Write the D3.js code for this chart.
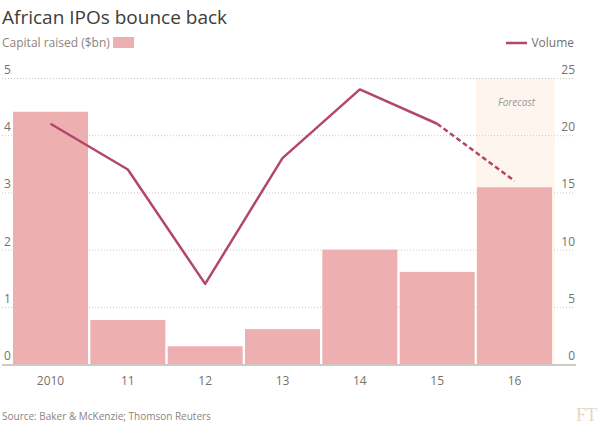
<!DOCTYPE html>
<html>
<head>
<meta charset="utf-8">
<script src="https://cdn.jsdelivr.net/npm/d3@7"></script>
<style>
  body { margin: 0; background: #fff; }
  svg { display: block; font-family: "Open Sans", "DejaVu Sans", sans-serif; }
</style>
</head>
<body>
<div id="chart"></div>
<script>
// Data
const years = ['2010', '11', '12', '13', '14', '15', '16'];
const capitalRaised = [4.41, 0.77, 0.31, 0.61, 2.0, 1.61, 3.09];
const volume = [21, 17, 7, 18, 24, 21, 16];
const leftTicks = [0, 1, 2, 3, 4, 5];
const rightTicks = [0, 5, 10, 15, 20, 25];
const forecastYear = '16';

const width = 600, height = 424;
const plot = { left: 13, right: 552, top: 78, bottom: 364 };

const svg = d3.select('#chart').append('svg')
    .attr('width', width)
    .attr('height', height);

const x = d3.scaleBand()
    .domain(years)
    .range([plot.left, plot.right])
    .paddingInner(0.03)
    .paddingOuter(0);

const yCap = d3.scaleLinear().domain([0, 5]).range([plot.bottom, plot.top]);
const yVol = d3.scaleLinear().domain([0, 25]).range([plot.bottom, plot.top]);

// Forecast shading
svg.append('rect')
    .attr('x', x(forecastYear) - 1)
    .attr('y', plot.top)
    .attr('width', x.bandwidth() + 4)
    .attr('height', plot.bottom - plot.top)
    .attr('fill', '#fef6ee');

svg.append('text')
    .attr('x', x(forecastYear) + x.bandwidth() / 2 + 2)
    .attr('y', 106)
    .attr('text-anchor', 'middle')
    .style('font-size', '10px')
    .style('font-style', 'italic')
    .style('fill', '#999')
    .text('Forecast');

// Dotted gridlines
svg.append('g')
    .selectAll('line')
    .data(leftTicks.slice(1))
    .enter()
    .append('line')
    .attr('x1', 2)
    .attr('x2', 574)
    .attr('y1', d => yCap(d) + 0.5)
    .attr('y2', d => yCap(d) + 0.5)
    .attr('stroke', '#cdc8c3')
    .attr('stroke-width', 1)
    .attr('stroke-dasharray', '1,2');

// Left axis labels
svg.append('g')
    .selectAll('text')
    .data(leftTicks)
    .enter()
    .append('text')
    .attr('x', 4)
    .attr('y', d => yCap(d) - 4)
    .style('font-size', '12px')
    .style('fill', '#77716c')
    .text(d => d);

// Right axis labels
svg.append('g')
    .selectAll('text')
    .data(rightTicks)
    .enter()
    .append('text')
    .attr('x', 575)
    .attr('y', d => yVol(d) - 4)
    .attr('text-anchor', 'end')
    .style('font-size', '12px')
    .style('fill', '#77716c')
    .text(d => d);

// Bars
svg.append('g')
    .selectAll('rect')
    .data(years)
    .enter()
    .append('rect')
    .attr('x', d => x(d))
    .attr('y', (d, i) => yCap(capitalRaised[i]))
    .attr('width', x.bandwidth())
    .attr('height', (d, i) => plot.bottom - yCap(capitalRaised[i]))
    .attr('fill', '#eeafb0');

// Baseline
svg.append('line')
    .attr('x1', 2)
    .attr('x2', 576)
    .attr('y1', plot.bottom + 1)
    .attr('y2', plot.bottom + 1)
    .attr('stroke', '#cfcac4')
    .attr('stroke-width', 2);

// X axis labels
svg.append('g')
    .selectAll('text')
    .data(years)
    .enter()
    .append('text')
    .attr('x', d => x(d) + x.bandwidth() / 2)
    .attr('y', 385)
    .attr('text-anchor', 'middle')
    .style('font-size', '12px')
    .style('fill', '#77716c')
    .text(d => d);

// Volume line: solid for actuals, dashed into forecast
const pts = years.map((d, i) => [x(d) + x.bandwidth() / 2, yVol(volume[i])]);
const line = d3.line();
const lineColor = '#b3476b';

svg.append('path')
    .attr('d', line(pts.slice(0, years.length - 1)))
    .attr('fill', 'none')
    .attr('stroke', lineColor)
    .attr('stroke-width', 2.5)
    .attr('stroke-linejoin', 'round');

svg.append('path')
    .attr('d', line(pts.slice(years.length - 2)))
    .attr('fill', 'none')
    .attr('stroke', lineColor)
    .attr('stroke-width', 2.5)
    .attr('stroke-dasharray', '5,3');

// Title and legends
svg.append('text')
    .attr('x', 2)
    .attr('y', 24)
    .style('font-size', '19px')
    .style('fill', '#403c38')
    .text('African IPOs bounce back');

svg.append('text')
    .attr('x', 2)
    .attr('y', 47)
    .style('font-size', '12px')
    .style('fill', '#8a8480')
    .text('Capital raised ($bn)');

svg.append('rect')
    .attr('x', 113)
    .attr('y', 37)
    .attr('width', 21)
    .attr('height', 11)
    .attr('fill', '#eeafb0');

svg.append('line')
    .attr('x1', 506)
    .attr('x2', 527)
    .attr('y1', 43)
    .attr('y2', 43)
    .attr('stroke', lineColor)
    .attr('stroke-width', 2.5);

svg.append('text')
    .attr('x', 574)
    .attr('y', 47)
    .attr('text-anchor', 'end')
    .style('font-size', '12px')
    .style('fill', '#77716c')
    .text('Volume');

// Source and FT mark, kept inside the frame
svg.append('text')
    .attr('x', 2)
    .attr('y', 420)
    .style('font-size', '10px')
    .style('fill', '#8a8480')
    .text('Source: Baker & McKenzie; Thomson Reuters');

svg.append('text')
    .attr('x', 597)
    .attr('y', 421)
    .attr('text-anchor', 'end')
    .style('font-family', '"Liberation Serif", serif')
    .style('font-size', '18px')
    .style('fill', '#e3d7ca')
    .text('FT');
</script>
</body>
</html>
